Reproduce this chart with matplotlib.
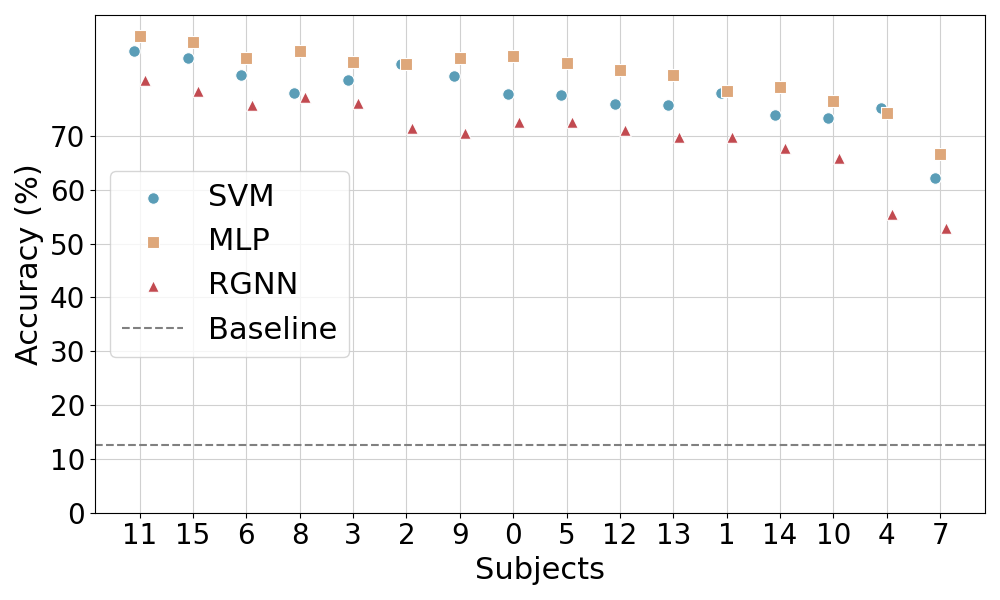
import numpy as np
import matplotlib
matplotlib.use('Agg')
import matplotlib.pyplot as plt

# subjects sorted as in the figure
subjects = ['11', '15', '6', '8', '3', '2', '9', '0', '5', '12', '13', '1', '14', '10', '4', '7']
svm = [85.8, 84.5, 81.4, 78.0, 80.4, 83.4, 81.2, 77.8, 77.6, 76.0, 75.8, 78.0, 73.9, 73.4, 75.2, 62.2]
mlp = [88.6, 87.5, 84.5, 85.8, 83.8, 83.4, 84.5, 84.9, 83.6, 82.3, 81.4, 78.4, 79.1, 76.5, 74.3, 66.7]
rgnn = [80.4, 78.4, 75.8, 77.3, 76.1, 71.5, 70.6, 72.6, 72.6, 71.1, 69.8, 69.8, 67.8, 65.9, 55.5, 52.9]
baseline = 12.5

x = np.arange(len(subjects))

fig, ax = plt.subplots(figsize=(10, 6), dpi=100)
ax.scatter(x - 0.1, svm, s=70, marker='o', color='#5a9db7', edgecolor='white', linewidth=0.8, label='SVM', zorder=3)
ax.scatter(x, mlp, s=70, marker='s', color='#dea77a', edgecolor='white', linewidth=0.8, label='MLP', zorder=3)
ax.scatter(x + 0.1, rgnn, s=70, marker='^', color='#c24a50', edgecolor='white', linewidth=0.8, label='RGNN', zorder=3)
ax.axhline(baseline, color='grey', linestyle='--', linewidth=1.5, label='Baseline', zorder=2)

ax.set_xticks(x)
ax.set_xticklabels(subjects)
ax.set_yticks(np.arange(0, 80, 10))
ax.set_ylim(0, 92.5)
ax.set_xlim(-0.84, 15.84)
ax.tick_params(labelsize=20)
ax.set_xlabel('Subjects', fontsize=22)
ax.set_ylabel('Accuracy (%)', fontsize=22)
ax.grid(True, color='#d0d0d0', linewidth=0.8, zorder=0)
ax.set_axisbelow(True)

ax.legend(fontsize=22, loc='center left')

plt.tight_layout()
plt.savefig('out.png')
